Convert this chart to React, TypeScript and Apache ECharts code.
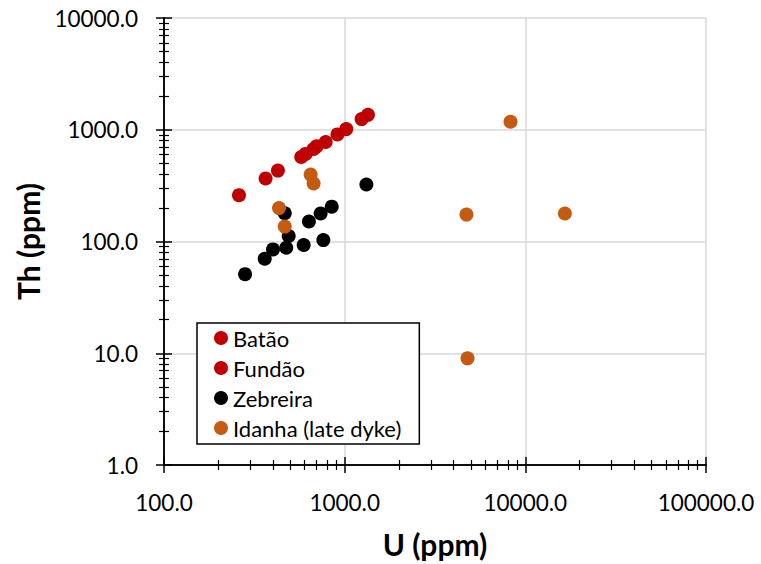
import React, { useEffect, useRef } from 'react';
import * as echarts from 'echarts';

const batao: [number, number][] = [[260, 260], [365, 366], [427, 431], [575, 571], [608, 608]];
const fundao: [number, number][] = [[673, 673], [700, 710], [785, 777], [912, 908], [1021, 1014], [1241, 1245], [1346, 1360]];
const zebreira: [number, number][] = [[1319, 324], [848, 205], [736, 178], [634, 151], [466, 179], [490, 112], [475, 88], [401, 85], [593, 93], [762, 103], [361, 70], [281, 51]];
const idanha: [number, number][] = [[648, 397], [673, 330], [433, 199], [466, 136], [8280, 1178], [4722, 174], [16550, 178], [4786, 9.0]];

const seriesNames = ['Batão', 'Fundão', 'Zebreira', 'Idanha (late dyke)'];
const seriesColors = ['#C00000', '#C00000', '#000000', '#C55A11'];
const xRange = [100, 100000];
const yRange = [1, 10000];

const FONT = 'Lato';

export default function App() {
  const ref = useRef<HTMLDivElement>(null);
  useEffect(() => {
    document.body.style.margin = '0';
    const chart = echarts.init(ref.current!, undefined, { renderer: 'svg' });
    const axisLine = { show: true, lineStyle: { color: '#000', width: 1.5 } };
    const mkX = (inside: boolean, main: boolean) => ({
      type: 'log' as const,
      logBase: 10,
      min: xRange[0],
      max: xRange[1],
      position: 'bottom' as const,
      axisLine,
      axisTick: { show: true, inside, length: 8, lineStyle: { color: '#000', width: 1.5 } },
      minorTick: { show: true, splitNumber: 9, length: 5, lineStyle: { color: '#000', width: 1.2 } },
      splitLine: { show: main, lineStyle: { color: '#d9d9d9', width: 1.5 } },
      axisLabel: main
        ? { show: true, formatter: (v: number) => v.toFixed(1), fontSize: 22.5, fontFamily: FONT, color: '#000', margin: 26, showMinLabel: true, showMaxLabel: true }
        : { show: false },
      name: main ? 'U (ppm)' : '',
      nameLocation: 'middle' as const,
      nameGap: 64,
      nameTextStyle: { fontSize: 30, fontWeight: 'bold' as const, fontFamily: FONT, color: '#000' },
    });
    const mkY = (inside: boolean, main: boolean) => ({
      type: 'log' as const,
      logBase: 10,
      min: yRange[0],
      max: yRange[1],
      position: 'left' as const,
      axisLine,
      axisTick: { show: true, inside, length: 8, lineStyle: { color: '#000', width: 1.5 } },
      minorTick: { show: true, splitNumber: 9, length: 5, lineStyle: { color: '#000', width: 1.2 } },
      splitLine: { show: main, lineStyle: { color: '#d9d9d9', width: 1.5 } },
      axisLabel: main
        ? { show: true, formatter: (v: number) => v.toFixed(1), fontSize: 22.5, fontFamily: FONT, color: '#000', margin: 26, showMinLabel: true, showMaxLabel: true }
        : { show: false },
      name: main ? 'Th (ppm)' : '',
      nameLocation: 'middle' as const,
      nameGap: 119,
      nameTextStyle: { fontSize: 30, fontWeight: 'bold' as const, fontFamily: FONT, color: '#000' },
    });
    const datasets = [batao, fundao, zebreira, idanha];
    chart.setOption({
      animation: false,
      backgroundColor: '#fff',
      grid: { left: 164, right: 55, top: 18, bottom: 98, containLabel: false },
      xAxis: [mkX(false, true), mkX(true, false)],
      yAxis: [mkY(false, true), mkY(true, false)],
      legend: {
        show: true,
        orient: 'vertical',
        left: 197,
        top: 323,
        padding: [4, 18, 5, 17],
        itemGap: 8,
        itemWidth: 14,
        itemHeight: 14,
        icon: 'circle',
        borderColor: '#000',
        borderWidth: 1.5,
        backgroundColor: '#fff',
        textStyle: { fontFamily: FONT, fontSize: 22, color: '#000', lineHeight: 20 },
        data: seriesNames,
      },
      series: datasets.map((d, i) => ({
        type: 'scatter',
        name: seriesNames[i],
        xAxisIndex: 0,
        yAxisIndex: 0,
        data: d,
        symbol: 'circle',
        symbolSize: 14,
        itemStyle: { color: seriesColors[i], opacity: 1 },
        z: 2 + i,
      })),
    });
    return () => chart.dispose();
  }, []);
  return <div ref={ref} style={{ width: 761, height: 564 }} />;
}
